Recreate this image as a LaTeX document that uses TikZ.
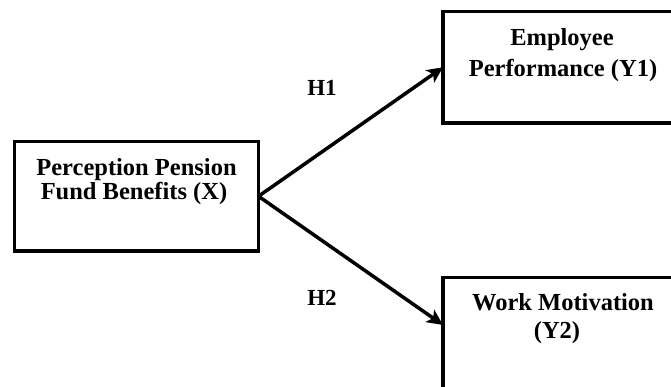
\documentclass[tikz,border=0pt]{standalone}
\usepackage{fontspec}
\setmainfont{Liberation Serif}
\usetikzlibrary{arrows.meta}
\begin{document}
\begin{tikzpicture}[x=1pt,y=-1pt,
  box/.style={draw, line width=3.5pt, rectangle, inner sep=0pt, outer sep=0pt},
  txt/.style={font=\fontsize{24.5}{24.5}\selectfont\bfseries, inner sep=0pt, anchor=base},
  hlbl/.style={font=\fontsize{23}{23}\selectfont\bfseries, inner sep=0pt, anchor=base},
  conn/.style={line width=3.5pt, -{Stealth[length=16pt,width=15pt,inset=4pt]}}]
\useasboundingbox (0,0) rectangle (671,386);
\clip (0,0) rectangle (671,386);
\node[box, minimum width=244pt, minimum height=109.5pt] (X) at (136.5,196.25) {};
\node[box, minimum width=260pt, minimum height=111.5pt, anchor=north west] (Y1) at (443,11.5) {};
\node[box, minimum width=260pt, minimum height=140pt, anchor=north west] (Y2) at (443,277.5) {};
\coordinate (t2) at (443,325);
\node[txt] (x1) at (136.5,175) {Perception Pension};
\node[txt] (x2) at (134,199) {Fund Benefits (X)};
\node[txt] (y11) at (562,45) {Employee};
\node[txt] (y12) at (563,76) {Performance (Y1)};
\node[txt] (y21) at (563,310) {Work Motivation};
\node[txt] (y22) at (557,338) {(Y2)};
\draw[conn] (X.east) -- (Y1.west);
\draw[conn] (X.east) -- (t2);
\node[hlbl] (h1) at (322,95) {H1};
\node[hlbl] (h2) at (322,305) {H2};
\end{tikzpicture}
\end{document}
